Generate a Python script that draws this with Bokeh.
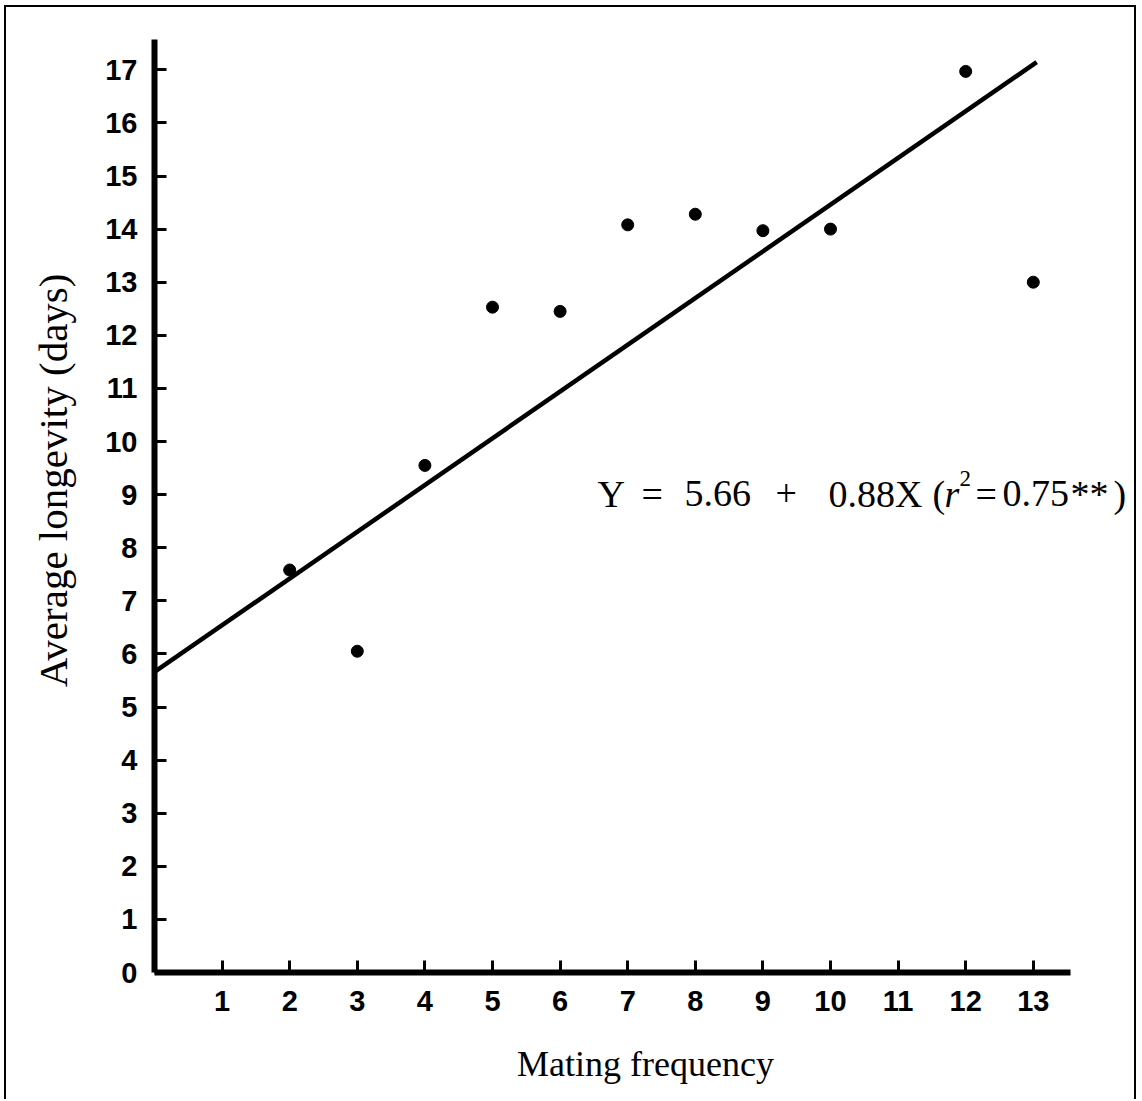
import math
from bokeh.plotting import figure
from bokeh.models import Range1d, FixedTicker, Label
from bokeh.embed import file_html
from bokeh.resources import INLINE

# ---- data ----
mating_frequency = [2, 3, 4, 5, 6, 7, 8, 9, 10, 12, 13]
avg_longevity = [7.58, 6.05, 9.55, 12.53, 12.45, 14.08, 14.28, 13.97, 14.0, 16.97, 13.0]
fit_intercept = 5.66
fit_slope = 0.88
fit_x = [0, 13.05]
fit_y = [fit_intercept + fit_slope * v for v in fit_x]
x_ticks = list(range(1, 14))
y_ticks = list(range(0, 18))

# page geometry (pixels in the 1142x1101 page)
PX_X = 67.6      # pixels per x unit
PX_Y = 53.1      # pixels per y unit
X0, Y0 = 154, 972          # page position of the origin
FRAME_RIGHT, FRAME_TOP = 1136, 39
CANVAS_DX, CANVAS_DY = 6, 7  # canvas offset inside the page (border)
CANVAS_W, CANVAS_H = 1132, 1094

X_AXIS_END = 13.55
x_end = (FRAME_RIGHT - X0) / PX_X
y_end = (Y0 - FRAME_TOP) / PX_Y

p = figure(width=CANVAS_W, height=CANVAS_H, output_backend="svg", toolbar_location=None,
           x_range=Range1d(0, x_end), y_range=Range1d(0, y_end),
           min_border_left=X0 - CANVAS_DX,
           min_border_right=CANVAS_W - (FRAME_RIGHT - CANVAS_DX),
           min_border_top=FRAME_TOP - CANVAS_DY,
           min_border_bottom=CANVAS_H - (Y0 - CANVAS_DY),
           styles={"margin-left": "4px", "margin-top": "5px",
                   "border-left": "2px solid black", "border-top": "2px solid black",
                   "border-right": "2px solid black"})
p.outline_line_color = None
p.grid.visible = False
p.background_fill_color = "white"
p.border_fill_color = "white"

for ax, ticks in ((p.xaxis[0], x_ticks), (p.yaxis[0], y_ticks)):
    ax.ticker = FixedTicker(ticks=ticks)
    ax.axis_line_width = 6
    ax.axis_line_color = "black"
    ax.major_tick_line_width = 3
    ax.major_tick_line_color = "black"
    ax.major_tick_in = 12
    ax.major_tick_out = 0
    ax.minor_tick_line_color = None
    ax.major_label_text_font = "Liberation Sans"
    ax.major_label_text_font_style = "bold"
    ax.major_label_text_font_size = "29px"
    ax.major_label_text_color = "black"
    ax.axis_label_text_font = "Liberation Serif"
    ax.axis_label_text_font_style = "normal"
    ax.axis_label_text_color = "black"

xa, ya = p.xaxis[0], p.yaxis[0]
xa.bounds = (0, X_AXIS_END)
xa.major_label_standoff = 18
xa.axis_label = "Mating frequency"
xa.axis_label_text_font_size = "36px"
xa.axis_label_standoff = 30

ya.major_label_standoff = 17
NB = "\u00a0"
ya.axis_label = NB * 5 + "Average longevity (days)"
ya.axis_label_text_font_size = "41px"
ya.axis_label_standoff = 26

# regression line and points
p.line(fit_x, fit_y, line_color="black", line_width=4.5)
p.scatter(mating_frequency, avg_longevity, size=12, fill_color="black", line_color="black")

def dx(px):
    return (px - X0) / PX_X

def dy(py):
    return (Y0 - py) / PX_Y

serif = "Liberation Serif"
base = dy(493)
tokens = [("Y", 597, "normal"), ("=", 641, "normal"), ("5.66", 684, "normal"),
          ("+", 775, "normal"), ("0.88X", 828, "normal"), ("(", 932, "normal"),
          ("r", 944, "italic"), ("=", 975, "normal"), ("0.75", 1002, "normal"),
          ("**", 1070, "normal"), (")", 1113, "normal")]
for t, px, st in tokens:
    p.add_layout(Label(x=dx(px), y=base, text=t, text_font=serif, text_font_size="38px",
                       text_font_style=st, text_align="left", text_baseline="alphabetic",
                       text_color="black"))
p.add_layout(Label(x=dx(959), y=dy(478), text="2", text_font=serif, text_font_size="23px",
                   text_align="left", text_baseline="alphabetic", text_color="black"))

open("out.html", "w").write(file_html(p, INLINE))
